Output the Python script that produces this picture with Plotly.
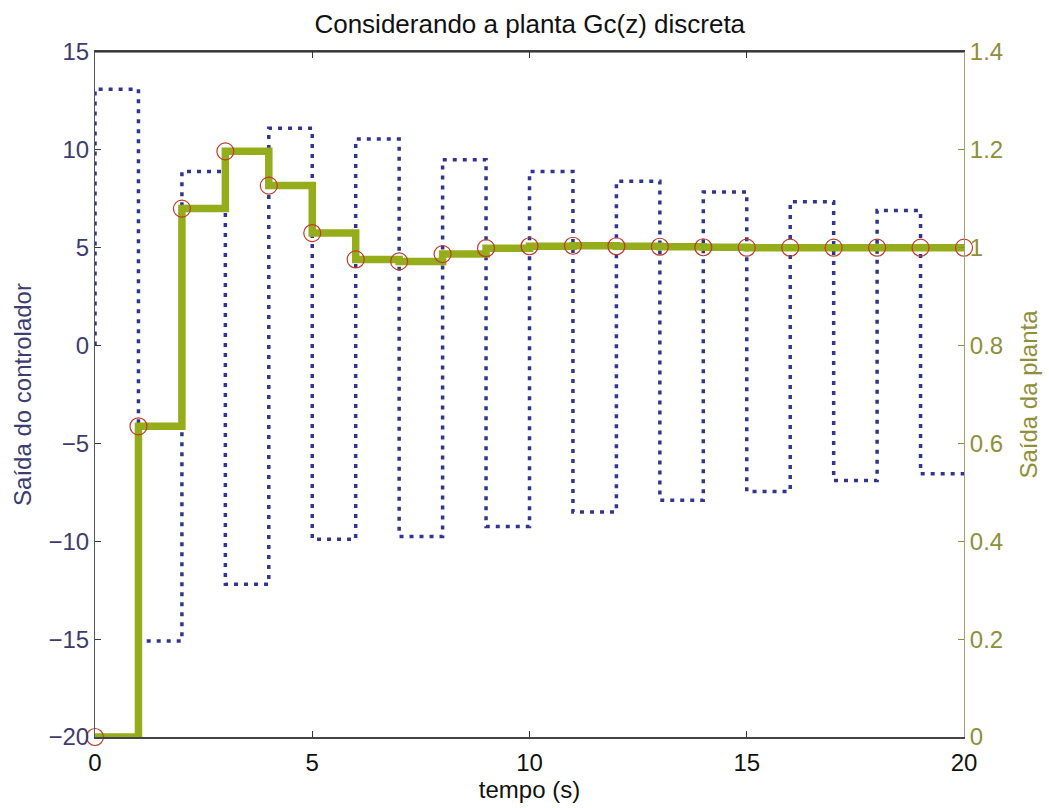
import plotly.graph_objects as go

# Controller output u[k] (left axis), k = 0..19
u_vals = [13.1, -15.1, 8.9, -12.2, 11.1, -9.9, 10.55, -9.75, 9.5, -9.25,
          8.9, -8.5, 8.4, -7.9, 7.85, -7.45, 7.35, -6.9, 6.9, -6.55]
# Plant output y[k] (right axis), k = 0..20
y_vals = [0, 0.635, 1.08, 1.197, 1.127, 1.03, 0.976, 0.972, 0.987, 0.999,
          1.003, 1.004, 1.003, 1.002, 1.001, 1.0, 1.0, 1.0, 1.0, 1.0, 1.0]
k_u = list(range(len(u_vals)))
k_y = list(range(len(y_vals)))

x_ticks = [0, 5, 10, 15, 20]
left_ticks = [-20, -15, -10, -5, 0, 5, 10, 15]
right_ticks = [0, 0.2, 0.4, 0.6, 0.8, 1, 1.2, 1.4]
right_ticktext = ["0", "0.2", "0.4", "0.6", "0.8", "1", "1.2", "1.4"]

# stairs for controller (starts from 0 at t=0, held to t=20)
ux = [0] + k_u + [k_u[-1] + 1]
uy = [0] + u_vals + [u_vals[-1]]

FONT = "Liberation Sans, Arial, sans-serif"
BLUE_TXT = "#3c3c70"
OLIVE = "#8f8f3a"

fig = go.Figure()
fig.add_trace(go.Scatter(
    x=ux, y=uy, mode="lines", line_shape="hv",
    line=dict(color="#2f3590", width=3.5, dash="4px,6px"),
    yaxis="y", showlegend=False, hoverinfo="skip"))
fig.add_trace(go.Scatter(
    x=k_y, y=y_vals, mode="lines", line_shape="hv",
    line=dict(color="#95ad1a", width=7.5),
    yaxis="y2", showlegend=False))
fig.add_trace(go.Scatter(
    x=k_y, y=y_vals, mode="markers",
    marker=dict(symbol="circle-open", size=17, color="#c0392b",
                line=dict(width=1.2, color="#c0392b")),
    yaxis="y2", showlegend=False, cliponaxis=False))

fig.update_layout(
    width=1049, height=808,
    margin=dict(l=95, r=85, t=52, b=71),
    paper_bgcolor="white", plot_bgcolor="white",
    font=dict(family=FONT, size=24, color="#111111"),
    title=dict(text="Considerando a planta Gc(z) discreta", x=0.505, xanchor="center",
               y=0.97, yanchor="middle", font=dict(size=26, color="#111111")),
    xaxis=dict(range=[0, 20], tickvals=x_ticks, ticks="inside", ticklen=6,
               tickcolor="#333333", showline=True, linecolor="#444444", linewidth=1.5,
               mirror="ticks", showgrid=False, zeroline=False, ticklabelstandoff=3,
               tickfont=dict(size=24, color="#111111"),
               title=dict(text="tempo (s)", font=dict(size=24, color="#111111"), standoff=2)),
    yaxis=dict(range=[-20, 15], tickvals=left_ticks, ticks="inside", ticklen=6,
               tickcolor="#333355", showline=True, linecolor="#555566", linewidth=1,
               showgrid=False, zeroline=False,
               tickfont=dict(size=24, color=BLUE_TXT),
               title=dict(text="Saída do controlador", font=dict(size=24, color=BLUE_TXT), standoff=10)),
    yaxis2=dict(range=[0, 1.4], tickvals=right_ticks, ticktext=right_ticktext,
                overlaying="y", side="right", ticks="inside", ticklen=6,
                tickcolor=OLIVE, showline=True, linecolor="#a0a070", linewidth=1,
                showgrid=False, zeroline=False,
                tickfont=dict(size=24, color=OLIVE),
                title=dict(text="Saída da planta", font=dict(size=24, color=OLIVE), standoff=18)),
)
# top border line
fig.add_shape(type="line", xref="paper", yref="paper", x0=0, x1=1, y0=1, y1=1,
              line=dict(color="#222222", width=1.2))

fig.write_html("out.html")
